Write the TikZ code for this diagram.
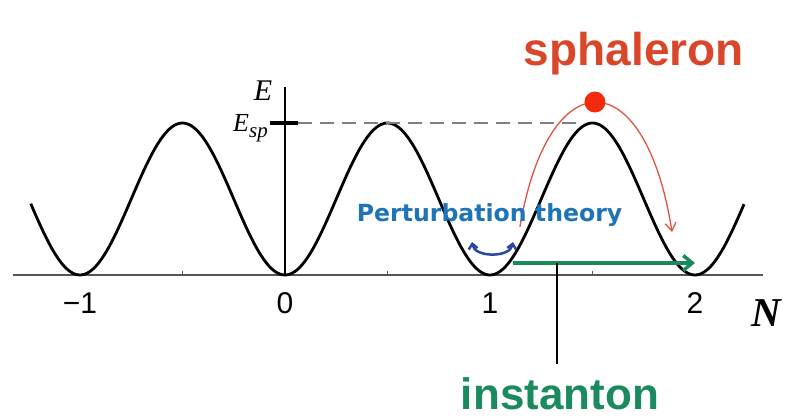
\documentclass[tikz,border=0pt]{standalone}
\usepackage{fontspec}
\usetikzlibrary{arrows.meta}
\newfontfamily\labelfont{Liberation Sans}
\newfontfamily\pertfont{DejaVu Sans}
\newfontfamily\serfont{Liberation Serif}
\definecolor{SphRed}{HTML}{D9472B}
\definecolor{DotRed}{HTML}{F52A0C}
\definecolor{ArcRed}{HTML}{E0553F}
\definecolor{PertBlue}{HTML}{1F74B8}
\definecolor{SwingBlue}{HTML}{2A45A5}
\definecolor{InstGreen}{HTML}{1B8B5E}
\definecolor{DashGray}{HTML}{7F7F7F}
\definecolor{AxisGray}{HTML}{555555}

\begin{document}
\begin{tikzpicture}[x=205pt,y=152pt,>=Latex,
  tick/.style={font=\labelfont\fontsize{30}{32}\selectfont,anchor=base},
  bigword/.style={font=\labelfont\bfseries\fontsize{44}{48}\selectfont,anchor=base,inner ysep=0pt}]
\useasboundingbox (-1.3902,-0.9342) rectangle (2.4878,1.8092);
% axes
\draw[line width=1.8pt,AxisGray] (-1.327,0) -- (2.332,0);
\foreach \t in {-0.5,0.5,1.5}{\draw[line width=1pt,AxisGray] (\t,0) -- (\t,0.025);}
\coordinate (org) at (0,0);
\coordinate (etop) at (0,1.237);
\draw[line width=2pt] (org) -- (etop);
% potential
\draw[line width=2.8pt,domain=-1.24:2.24,samples=160,smooth] plot (\x,{(1-cos(360*\x))/2});
% sphaleron energy
\coordinate (espl) at (-0.073,1);
\coordinate (espr) at (0.063,1);
\coordinate (top) at (1.44,1);
\draw[line width=4pt] (espl) -- (espr);
\draw[DashGray,line width=2.4pt,dash pattern=on 14pt off 8pt] (espr) -- (top);
\node[font=\serfont\itshape\fontsize{30}{32}\selectfont,anchor=base] (elab) at (-0.107,1.151) {E};
\node[font=\serfont\itshape\fontsize{26}{28}\selectfont,anchor=base east,inner xsep=1pt] (esplab) at (-0.078,0.941) {E\raisebox{-6pt}{\fontsize{21}{21}\selectfont sp}};
\foreach \n/\s [count=\i] in {-1/−1,0/0,1/1,2/2}{\node[tick] (lab\i) at (\n,-0.25) {\s};}
\node[font=\serfont\bfseries\itshape\fontsize{41}{44}\selectfont,anchor=base] (nlab) at (2.346,-0.342) {N};
% sphaleron path
\coordinate (ra) at (1.146,0.316);
\coordinate (rb) at (1.888,0.283);
\draw[ArcRed,line width=1.3pt,-{Straight Barb[length=8pt,width=11pt]}] (ra) .. controls (1.283,1.414) and (1.756,1.414) .. (rb);
\fill[DotRed] (1.512,1.138) circle (10.5pt);
\node[bigword,text=SphRed,font=\labelfont\bfseries\fontsize{46}{48}\selectfont] (sph) at (1.702,1.375) {sphaleron};
% perturbation theory
\node[font=\pertfont\bfseries\fontsize{23.6}{26}\selectfont,text=PertBlue,anchor=base] (pert) at (0.998,0.349) {Perturbation theory};
\coordinate (bl) at (0.912,0.217);
\coordinate (br) at (1.112,0.217);
\draw[SwingBlue,line width=2.5pt,{Straight Barb[length=5pt,width=9pt]}-{Straight Barb[length=5pt,width=9pt]}] (bl) to[bend right=80] (br);
% instanton
\coordinate (gl) at (1.112,0.079);
\coordinate (gr) at (2.0,0.079);
\coordinate (jn) at (1.327,0.079);
\draw[InstGreen,line width=3.5pt,-{Straight Barb[length=9pt,width=15pt]}] (gl) -- (gr);
\node[bigword,text=InstGreen] (inst) at (1.341,-0.882) {instanton};
\draw[line width=1.8pt,shorten >=13pt] (jn) -- (jn |- inst.north);
\end{tikzpicture}
\end{document}
